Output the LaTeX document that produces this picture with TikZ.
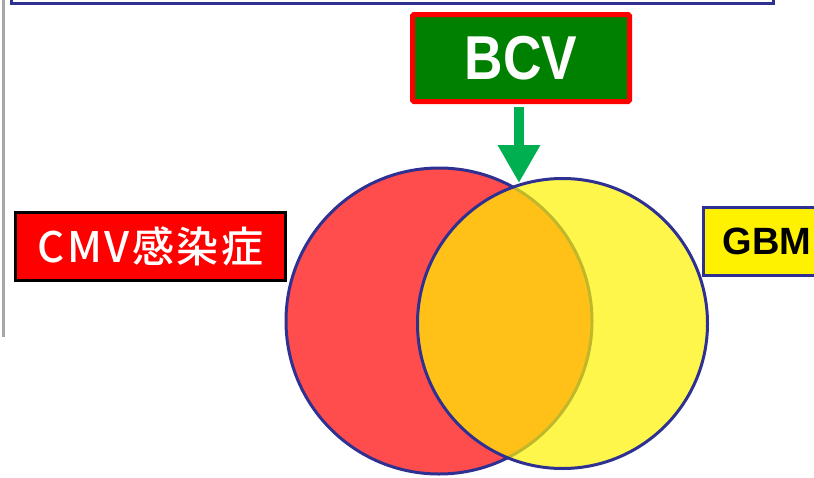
\documentclass[tikz,border=0pt]{standalone}
\usepackage{fontspec}
\setmainfont{Liberation Sans}
\newfontfamily\cjk[LetterSpace=6]{Noto Sans CJK JP Medium}
\newfontfamily\bcvfont[FakeStretch=0.86]{Liberation Sans}
\usetikzlibrary{arrows.meta,positioning}
\definecolor{vennblue}{RGB}{46,49,146}
\definecolor{bcvgreen}{RGB}{0,128,0}
\definecolor{arrowgreen}{RGB}{0,176,80}
\definecolor{sidegray}{RGB}{166,166,166}
\tikzset{
venn/.style = {draw=vennblue, line width=3pt, circle, fill opacity=0.7, draw opacity=1, inner sep=0pt},
bcvbox/.style = {draw=red, fill=bcvgreen, line width=5pt, rounded corners=1.5pt, minimum width=217pt, minimum height=87pt, text=white, font=\bcvfont\bfseries\fontsize{62}{62}\selectfont},
cmvbox/.style = {draw=black, fill=red, line width=3pt, minimum width=270pt, minimum height=68pt, text=white, font=\cjk\fontsize{42}{42}\selectfont},
gbmbox/.style = {draw=vennblue, fill=yellow, line width=3pt, minimum width=160pt, minimum height=68pt, inner xsep=18.5pt, align=left, text width=122pt, font=\bfseries\fontsize{38}{38}\selectfont},
bcvarrow/.style = {draw=arrowgreen, line width=10pt, -{Triangle[width=40pt,length=38pt]}, arrowgreen},
}
\begin{document}
\begin{tikzpicture}[x=1pt,y=-1pt]
  \useasboundingbox (0,0) rectangle (814,477);
  \clip (0,0) rectangle (814,477);
  % frame of the panel above and the side rule
  \draw [draw=vennblue, fill=white, line width=3pt] (11,-20) rectangle (773,3.5);
  \draw [sidegray, line width=3pt] (3,0) -- (3,337);
  % the two sets
  \node [venn, fill=red, minimum size=306pt] (cmvset) at (439,321) {};
  \node [venn, fill=yellow, minimum size=290pt] (gbmset) at (562.5,323.5) {};
  % labels
  \node [bcvbox] (bcv) at (521,58) {BCV};
  \node [cmvbox] (cmv) at (150.5,246.5) {CMV感染症};
  \node [gbmbox, anchor=west] (gbm) at (702,241.5) {GBM};
  \coordinate (tip) at (519,183);
  \draw [bcvarrow, shorten <=2.5pt] (bcv.south -| tip) -- (tip);
\end{tikzpicture}
\end{document}
